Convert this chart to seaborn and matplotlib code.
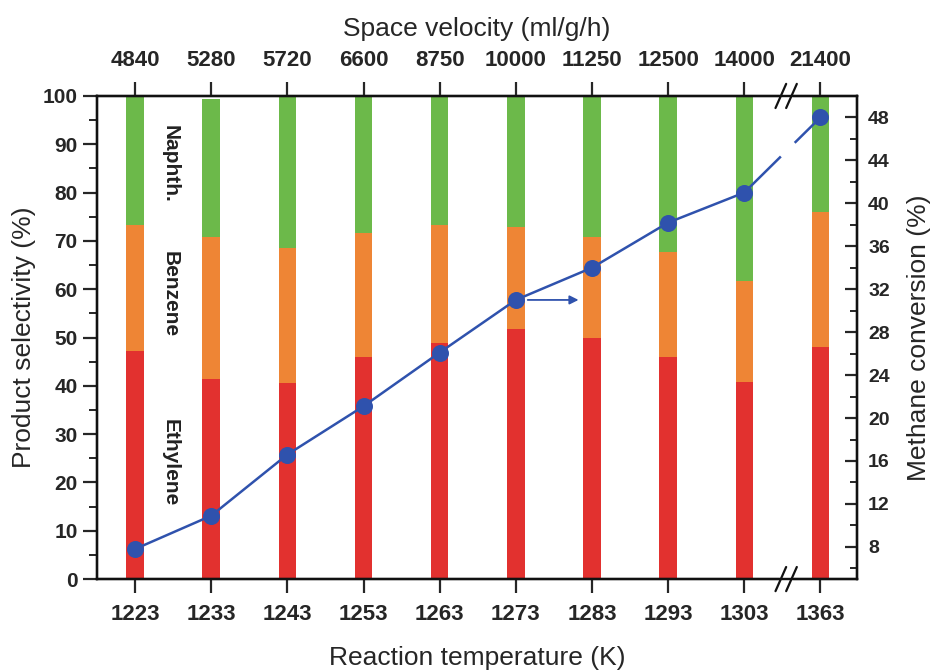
import numpy as np
import pandas as pd
import matplotlib
matplotlib.use('Agg')
import matplotlib.pyplot as plt
import seaborn as sns

# data
temps = ['1223', '1233', '1243', '1253', '1263', '1273', '1283', '1293', '1303', '1363']
space_velocity = ['4840', '5280', '5720', '6600', '8750', '10000', '11250', '12500', '14000', '21400']
ethylene = [47.3, 41.4, 40.5, 45.9, 48.8, 51.7, 50.0, 45.9, 40.8, 48.1]
benzene = [26.0, 29.5, 28.1, 25.7, 24.5, 21.2, 20.9, 21.7, 20.9, 27.8]
naphth = [26.7, 28.4, 31.4, 28.4, 26.7, 27.1, 29.1, 32.4, 38.3, 24.1]
conversion = [7.8, 10.9, 16.6, 21.1, 26.1, 31.0, 34.0, 38.2, 41.0, 48.0]

green = '#6cb94a'
orange = '#ee8535'
red = '#e2312f'
blue = '#2f52ad'

sns.set_style('ticks')
plt.rcParams['font.family'] = ['Liberation Sans', 'DejaVu Sans']
plt.rcParams['lines.scale_dashes'] = False
tick_font = ['Liberation Sans Narrow', 'Liberation Sans', 'DejaVu Sans']

df = pd.DataFrame({'temp': temps, 'eth': ethylene, 'benz': benzene, 'naph': naphth})
df['eb'] = df['eth'] + df['benz']
df['total'] = df['eb'] + df['naph']
idx = np.arange(len(temps))

fig, ax = plt.subplots(figsize=(9.37, 6.71), dpi=100)
fig.subplots_adjust(left=0.1035, right=0.9146, top=0.857, bottom=0.137)

# stacked bars, drawn back to front
for col, c in [('total', green), ('eb', orange), ('eth', red)]:
    sns.barplot(data=df, x='temp', y=col, color=c, width=0.23, saturation=1,
                linewidth=0, ax=ax)

ax.set_xlim(-0.5, 9.48)
ax.set_ylim(0, 100)
ax.set_yticks(np.arange(0, 101, 10))
ax.set_yticks(np.arange(5, 100, 10), minor=True)
ax.set_xlabel('Reaction temperature (K)', fontsize=19, labelpad=15)
ax.set_ylabel('Product selectivity (%)', fontsize=19, labelpad=5)
ax.tick_params(axis='x', direction='out', length=10, width=1.6, pad=8)
ax.tick_params(axis='y', which='major', direction='out', length=10, width=1.6, pad=4)
ax.tick_params(axis='y', which='minor', direction='out', length=6, width=1.4)
for lab in ax.get_xticklabels():
    lab.set_fontfamily(tick_font)
    lab.set_fontweight('bold')
    lab.set_fontsize(16)
for lab in ax.get_yticklabels():
    lab.set_fontfamily(tick_font)
    lab.set_fontweight('bold')
    lab.set_fontsize(15)

# labels inside the chart
for name, yv in [('Naphth.', 86), ('Benzene', 59), ('Ethylene', 24)]:
    ax.text(0.46, yv, name, rotation=-90, ha='center', va='center',
            fontsize=15, fontweight='bold', family=tick_font, color='#222222')

# methane conversion on the right axis
ax2 = ax.twinx()
sns.lineplot(x=idx[:9], y=conversion[:9], color=blue, lw=1.8, ax=ax2)
ax2.plot(idx[8:], conversion[8:], color=blue, lw=1.8, linestyle=(0, (37, 14, 40, 10)))
sns.scatterplot(x=idx, y=conversion, color=blue, s=150, edgecolor=blue, linewidth=0,
                ax=ax2, zorder=5)
ax2.annotate('', xy=(idx[5] + 0.86, conversion[5]), xytext=(idx[5] + 0.12, conversion[5]),
             arrowprops=dict(arrowstyle='-|>', color=blue, lw=1.3, mutation_scale=13))
ax2.set_ylim(5, 50)
ax2.set_yticks(np.arange(8, 49, 4))
ax2.set_yticks(np.arange(6, 50, 2), minor=True)
ax2.set_ylabel('Methane conversion (%)', fontsize=19, labelpad=12)
ax2.tick_params(axis='y', which='major', direction='in', length=9, width=1.6, pad=8)
ax2.tick_params(axis='y', which='minor', direction='in', length=5, width=1.4)
for lab in ax2.get_yticklabels():
    lab.set_fontfamily(tick_font)
    lab.set_fontweight('bold')
    lab.set_fontsize(14)

# space velocity on the top axis
ax3 = ax.twiny()
ax3.set_xlim(ax.get_xlim())
ax3.set_xticks(idx)
ax3.set_xticklabels(space_velocity, fontsize=16, fontweight='bold', family=tick_font)
ax3.set_xlabel('Space velocity (ml/g/h)', fontsize=19, labelpad=10)
ax3.tick_params(axis='x', direction='out', length=10, width=1.6, pad=8)

for a in (ax, ax2, ax3):
    for s in a.spines.values():
        s.set_linewidth(1.6)
        s.set_color('#111111')

# axis break marks between the last two bars
bx = (idx[8] + idx[9]) / 2 + 0.05
trans = ax.get_xaxis_transform()
for yb in (0, 1):
    ax.plot([bx - 0.06, bx + 0.06], [yb, yb], color='white', lw=4, transform=trans,
            clip_on=False, zorder=10)
    for off in (-0.07, 0.07):
        ax.plot([bx + off - 0.07, bx + off + 0.07], [yb - 0.025, yb + 0.025], color='#111111',
                lw=1.6, transform=trans, clip_on=False, zorder=11)

fig.savefig('out.png', dpi=100)
